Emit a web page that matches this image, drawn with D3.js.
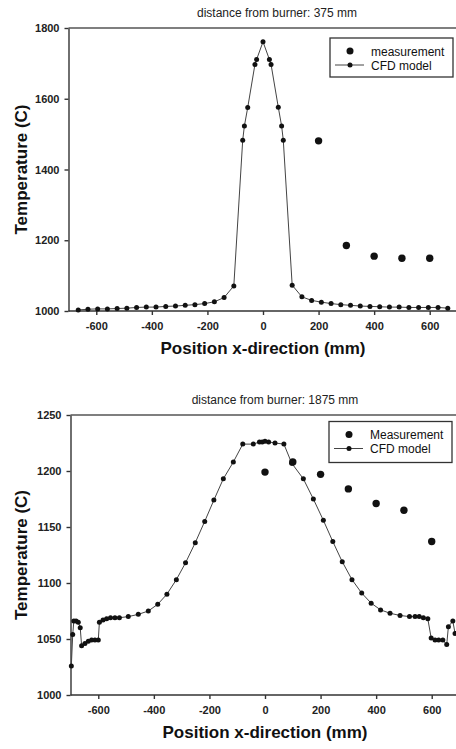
<!DOCTYPE html>
<html>
<head>
<meta charset="utf-8">
<script src="https://cdn.jsdelivr.net/npm/d3@7"></script>
<style>
  html, body { margin: 0; padding: 0; background: #fff; }
  svg { display: block; }
  .tick text { font-family: "Liberation Sans", Arial, sans-serif; font-weight: bold; font-size: 11px; fill: #222; }
  .tick line, .domain { stroke: #333; stroke-width: 1.4; }
</style>
</head>
<body>
<svg id="chart" width="456" height="749"></svg>
<script>
// ---- Panel 1: distance from burner 375 mm ----
const topTitle = "distance from burner: 375 mm";
const topMeasX = [200, 300, 400, 500, 600];
const topMeasT = [1481, 1185, 1155, 1149, 1149];
const topCfdX = [-665, -630, -595, -560, -525, -490, -455, -420, -385, -350, -315, -280, -245, -210, -175, -140, -105,
                 -73, -67, -55, -29, -23, 0, 23, 29, 55, 67, 73,
                 105, 140, 175, 210, 245, 280, 315, 350, 385, 420, 455, 490, 525, 560, 595, 630, 665];
const topCfdT = [1003, 1005, 1006, 1006, 1007, 1008, 1010, 1011, 1011, 1013, 1014, 1016, 1018, 1021, 1026, 1038, 1071,
                 1483, 1523, 1575, 1697, 1711, 1761, 1711, 1697, 1576, 1523, 1483,
                 1073, 1040, 1030, 1025, 1021, 1018, 1016, 1014, 1013, 1012, 1011, 1011, 1010, 1010, 1010, 1010, 1008];
const topYTicks = [1000, 1200, 1400, 1600, 1800];
const topXTicks = [-600, -400, -200, 0, 200, 400, 600];
const topLegend = ["measurement", "CFD model"];

// ---- Panel 2: distance from burner 1875 mm ----
const botTitle = "distance from burner: 1875 mm";
const botMeasX = [0, 100, 200, 300, 400, 500, 600];
const botMeasT = [1199, 1208, 1197, 1184, 1171, 1165, 1137];
const botCfdX = [-697, -692, -688, -680, -672, -665, -660, -648, -636, -624, -612, -600,
                 -596, -583, -570, -556, -540, -524, -492, -456, -420, -386, -353, -319, -286, -251, -217, -184, -150, -114,
                 -80, -42, -20, -10, 0, 13, 36, 68,
                 96, 138, 174, 210, 244, 278, 313, 348, 382, 416, 450, 486, 520, 540, 555, 570, 586,
                 598, 612, 625, 640, 654, 660, 676, 684];
const botCfdT = [1026, 1054, 1066, 1066, 1065, 1060, 1044, 1046, 1048, 1049, 1049, 1049,
                 1065, 1067, 1068, 1069, 1069, 1069, 1070, 1072, 1075, 1081, 1090, 1103, 1118, 1136, 1155, 1174, 1193, 1208,
                 1224, 1224, 1226, 1226, 1226.5, 1226, 1225, 1224,
                 1207, 1193, 1175, 1156, 1137, 1119, 1103, 1091, 1082, 1076, 1073, 1071, 1070, 1070, 1070, 1069, 1068,
                 1051, 1049, 1049, 1049, 1045, 1061, 1066, 1055];
const botYTicks = [1000, 1050, 1100, 1150, 1200, 1250];
const botXTicks = [-600, -400, -200, 0, 200, 400, 600];
const botLegend = ["Measurement", "CFD model"];

const xTitle = "Position x-direction (mm)";
const yTitle = "Temperature (C)";

const svg = d3.select("#chart");
const FONT = '"Liberation Sans", Arial, sans-serif';
// plain integers with an ASCII hyphen for negatives, no thousands separator
const plain = d => String(d);

function panel(cfg) {
  const x = d3.scaleLinear().domain([-700, 700]).range([cfg.left, cfg.right]);
  const y = d3.scaleLinear().domain(cfg.yDomain).range([cfg.bottom, cfg.top]);
  const g = svg.append("g");

  // title
  g.append("text")
    .attr("x", cfg.titleX).attr("y", cfg.top - 11)
    .attr("text-anchor", "middle")
    .style("font-family", FONT).style("font-size", "12px").style("fill", "#222")
    .text(cfg.title);

  // frame (top and right edges)
  g.append("path")
    .attr("d", `M${cfg.left},${cfg.top}H${cfg.right}V${cfg.bottom}`)
    .attr("fill", "none").attr("stroke", "#555").attr("stroke-width", 1.5);

  // axes
  g.append("g")
    .attr("transform", `translate(0,${cfg.bottom})`)
    .call(d3.axisBottom(x).tickValues(cfg.xTicks).tickFormat(plain).tickSize(4).tickPadding(7).tickSizeOuter(0))
    .call(a => a.select(".domain").attr("d", `M${cfg.left},0H${cfg.right}`));
  g.append("g")
    .attr("transform", `translate(${cfg.left},0)`)
    .call(d3.axisLeft(y).tickValues(cfg.yTicks).tickFormat(plain).tickSize(4).tickPadding(5).tickSizeOuter(0));

  // axis titles
  g.append("text")
    .attr("x", x(0)).attr("y", cfg.bottom + 43)
    .attr("text-anchor", "middle")
    .style("font-family", FONT).style("font-weight", "bold").style("font-size", "17px").style("fill", "#111")
    .text(xTitle);
  g.append("text")
    .attr("transform", `translate(27,${(cfg.top + cfg.bottom) / 2}) rotate(-90)`)
    .attr("text-anchor", "middle")
    .style("font-family", FONT).style("font-weight", "bold").style("font-size", "17px").style("fill", "#111")
    .text(yTitle);

  // CFD model line + small markers
  const cfd = cfg.cfdX.map((v, i) => [v, cfg.cfdT[i]]);
  g.append("path")
    .datum(cfd)
    .attr("fill", "none").attr("stroke", "#444").attr("stroke-width", 1)
    .attr("d", d3.line().x(d => x(d[0])).y(d => y(d[1])));
  g.append("g").selectAll("circle").data(cfd).join("circle")
    .attr("cx", d => x(d[0])).attr("cy", d => y(d[1])).attr("r", 2.5).attr("fill", "#111");

  // measurements
  const meas = cfg.measX.map((v, i) => [v, cfg.measT[i]]);
  g.append("g").selectAll("circle").data(meas).join("circle")
    .attr("cx", d => x(d[0])).attr("cy", d => y(d[1])).attr("r", 3.7).attr("fill", "#111");

  // legend
  const L = cfg.legend;
  const lg = g.append("g");
  lg.append("rect")
    .attr("x", L.x).attr("y", L.y).attr("width", L.w).attr("height", L.h)
    .attr("fill", "#fff").attr("stroke", "#333").attr("stroke-width", 1.3);
  lg.append("circle").attr("cx", L.x + 20).attr("cy", L.y + 13).attr("r", 3.5).attr("fill", "#111");
  lg.append("line")
    .attr("x1", L.x + 5).attr("x2", L.x + 34).attr("y1", L.y + 27).attr("y2", L.y + 27)
    .attr("stroke", "#444").attr("stroke-width", 1);
  lg.append("circle").attr("cx", L.x + 20).attr("cy", L.y + 27).attr("r", 2.5).attr("fill", "#111");
  lg.selectAll("text.leg").data(cfg.legendLabels).join("text")
    .attr("class", "leg")
    .attr("x", L.x + 41).attr("y", (d, i) => L.y + 17.5 + i * 14)
    .style("font-family", FONT).style("font-size", "12px").style("fill", "#111")
    .text(d => d);
}

panel({
  title: topTitle, titleX: 277,
  left: 68.5, right: 457.5, top: 28, bottom: 311,
  yDomain: [1000, 1800], yTicks: topYTicks, xTicks: topXTicks,
  cfdX: topCfdX, cfdT: topCfdT, measX: topMeasX, measT: topMeasT,
  legend: { x: 330, y: 38, w: 123, h: 39 }, legendLabels: topLegend
});

panel({
  title: botTitle, titleX: 275,
  left: 70.5, right: 459.5, top: 415, bottom: 695,
  yDomain: [1000, 1250], yTicks: botYTicks, xTicks: botXTicks,
  cfdX: botCfdX, cfdT: botCfdT, measX: botMeasX, measT: botMeasT,
  legend: { x: 329, y: 421.5, w: 123, h: 41 }, legendLabels: botLegend
});
</script>
</body>
</html>
